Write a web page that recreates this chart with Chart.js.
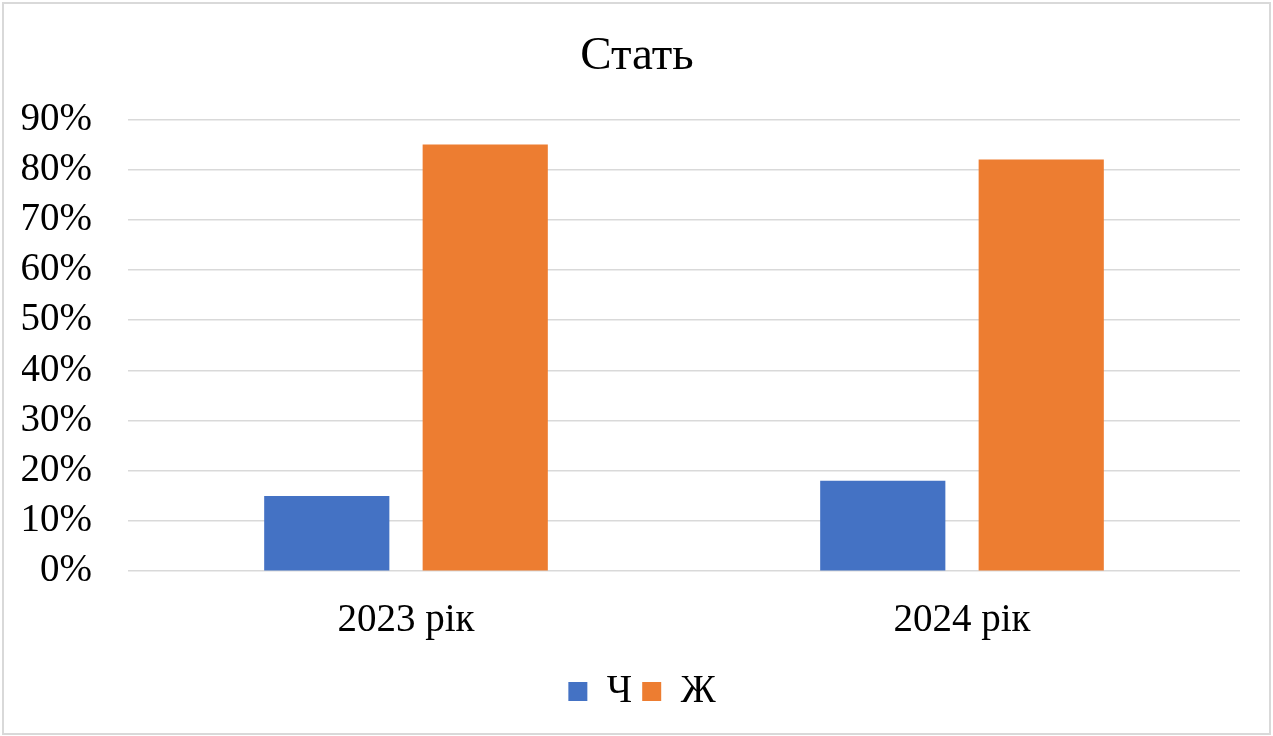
<!DOCTYPE html>
<html>
<head>
<meta charset="utf-8">
<script src="https://cdn.jsdelivr.net/npm/chart.js@4.4.1/dist/chart.umd.min.js"></script>
<style>
  html, body { margin: 0; padding: 0; background: #fff; }
  #frame {
    position: absolute; left: 2px; top: 2px;
    width: 1269px; height: 733px;
    box-sizing: border-box;
    border: 2px solid #d9d9d9;
  }
  #wrap { position: absolute; left: 0; top: 0; width: 1265px; height: 729px; }
</style>
</head>
<body>
<div id="frame"><div id="wrap"><canvas id="genderChart"></canvas></div></div>
<script>
const years = ["2023 рік", "2024 рік"];
const seriesNames = ["Ч", "Ж"];
const male = [0.15, 0.18];
const female = [0.85, 0.82];
const yTicks = [0, 0.1, 0.2, 0.3, 0.4, 0.5, 0.6, 0.7, 0.8, 0.9];

const serif = "'Liberation Serif', 'Times New Roman', serif";

// title and legend are centred on the whole frame, not on the padded area
const recentre = {
  id: "recentre",
  afterLayout(chart) {
    chart.titleBlock.left += 6;
    chart.titleBlock.right += 6;
    chart.legend.left += 11;
    chart.legend.right += 11;
  }
};

const ctx = document.getElementById("genderChart").getContext("2d");
new Chart(ctx, {
  type: "bar",
  data: {
    labels: years,
    datasets: [
      { label: seriesNames[0], data: male, backgroundColor: "#4472C4" },
      { label: seriesNames[1], data: female, backgroundColor: "#ED7D31" }
    ]
  },
  options: {
    responsive: true,
    maintainAspectRatio: false,
    animation: false,
    categoryPercentage: 0.57,
    barPercentage: 0.79,
    layout: { padding: { left: 18, right: 29, top: 16, bottom: 12 } },
    plugins: {
      title: {
        display: true,
        text: "Стать",
        color: "#000",
        font: { family: serif, size: 47, weight: "normal" },
        padding: { top: 8, bottom: 35 }
      },
      legend: {
        position: "bottom",
        labels: {
          color: "#000",
          font: { family: serif, size: 39 },
          boxWidth: 19,
          boxHeight: 19,
          padding: 10
        }
      },
      tooltip: { enabled: false }
    },
    scales: {
      x: {
        grid: { display: false },
        border: { display: false },
        ticks: { color: "#000", font: { family: serif, size: 39 }, padding: 18 }
      },
      y: {
        min: 0,
        max: 0.9,
        afterBuildTicks: axis => { axis.ticks = yTicks.map(v => ({ value: v })); },
        afterFit: axis => { axis.width = 106; },
        grid: { color: "#d9d9d9", lineWidth: 1.5, drawTicks: false },
        border: { display: false },
        ticks: {
          color: "#000",
          font: { family: serif, size: 39 },
          padding: 36,
          callback: v => Math.round(v * 100) + "%"
        }
      }
    }
  },
  plugins: [recentre]
});
</script>
</body>
</html>
